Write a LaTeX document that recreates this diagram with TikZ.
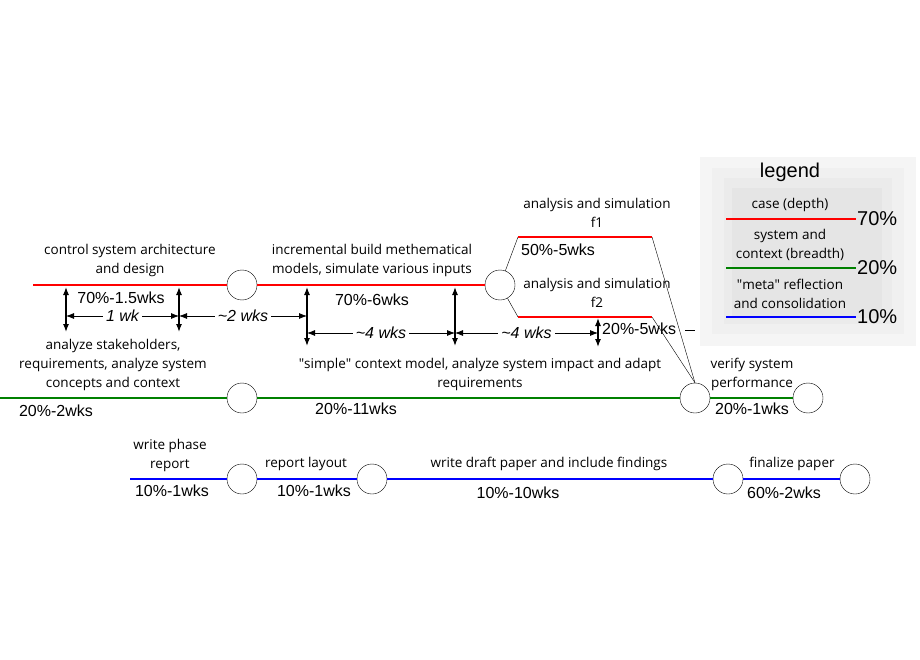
\documentclass[tikz,border=0pt]{standalone}
\usepackage{fontspec}
\setmainfont{Open Sans}
\newfontfamily\arl{Liberation Sans}
\usetikzlibrary{arrows.meta}
\begin{document}
\begin{tikzpicture}[x=1pt,y=-1pt,
 circ/.style={circle,draw,fill=white,minimum size=30pt,inner sep=0pt},
 red/.style={draw=red,line width=2.2pt},
 grn/.style={draw=green!50!black,line width=2.2pt},
 blu/.style={draw=blue,line width=2.2pt},
 lbl/.style={font=\fontsize{13.5}{19}\selectfont,align=center,inner sep=0pt},
 pct/.style={font=\arl\fontsize{16}{18}\selectfont,inner sep=0pt},
 dur/.style={font=\arl\itshape\fontsize{16}{18}\selectfont,fill=white,inner sep=3pt},
 va/.style={{Latex[length=8pt,width=6pt]}-{Latex[length=8pt,width=6pt]},line width=1.2pt}]
\useasboundingbox (0,0) rectangle (920,660);
% legend background
\fill[black!4] (700,157) rectangle (916,346);
\fill[black!6] (712,168) rectangle (904,334);
\fill[black!8] (724,178) rectangle (892,324);
\fill[black!10] (732,188) rectangle (882,318);
\node[font=\arl\fontsize{20}{22}\selectfont] (lg) at (790,172) {legend};
\node[lbl] (l1) at (790,205) {case (depth)};
\coordinate (r1a) at (726,219); \coordinate (r1b) at (856,219);
\draw[red] (r1a) -- (r1b);
\node[font=\arl\fontsize{20}{22}\selectfont,anchor=west,inner sep=1pt] (p70) at (r1b) {70\%};
\node[lbl] (l2) at (790,245) {system and\\context (breadth)};
\coordinate (r2a) at (726,268); \coordinate (r2b) at (856,268);
\draw[grn] (r2a) -- (r2b);
\node[font=\arl\fontsize{20}{22}\selectfont,anchor=west,inner sep=1pt] (p20) at (r2b) {20\%};
\node[lbl] (l3) at (790,294) {\textquotedbl meta\textquotedbl{} reflection\\and consolidation};
\coordinate (r3a) at (726,317); \coordinate (r3b) at (856,317);
\draw[blu] (r3a) -- (r3b);
\node[font=\arl\fontsize{20}{22}\selectfont,anchor=west,inner sep=1pt] (p10) at (r3b) {10\%};
% red track
\node[circ] (c1) at (242,285) {};
\node[circ] (c2) at (500,285) {};
\coordinate (rs) at (33,285);
\draw[red] (rs) -- (c1) -- (c2);
\coordinate (f1a) at (518,237); \coordinate (f1b) at (652,237);
\coordinate (f2a) at (518,317); \coordinate (f2b) at (652,317);
\draw (c2) -- (f1a); \draw (c2) -- (f2a);
\draw[red] (f1a) -- (f1b); \draw[red] (f2a) -- (f2b);
% green track
\node[circ] (g1) at (242,398) {};
\node[circ] (g2) at (695,398) {};
\node[circ] (g3) at (808,398) {};
\coordinate (gs) at (0,398);
\draw[grn] (gs) -- (g1) -- (g2) -- (g3);
\draw (f1b) -- (g2.north); \draw (f2b) -- (g2.north);
\coordinate (dsh1) at (685,330); \coordinate (dsh2) at (695,330);
\draw (dsh1) -- (dsh2);
% blue track
\node[circ] (b1) at (242,479) {};
\node[circ] (b2) at (372,479) {};
\node[circ] (b3) at (728,479) {};
\node[circ] (b4) at (855,479) {};
\coordinate (bs) at (130,479);
\draw[blu] (bs) -- (b1) -- (b2) -- (b3) -- (b4);
% vertical arrows
\coordinate (v1t) at (66,287); \coordinate (v1b) at (66,332);
\coordinate (v2t) at (179,287); \coordinate (v2b) at (179,332);
\coordinate (v3t) at (307,287); \coordinate (v3b) at (307,346);
\coordinate (v4t) at (455,287); \coordinate (v4b) at (455,346);
\coordinate (v5t) at (598,318); \coordinate (v5b) at (598,347);
\foreach \a/\b in {v1t/v1b,v2t/v2b,v3t/v3b,v4t/v4b,v5t/v5b} \draw[va] (\a) -- (\b);
% horizontal durations
\coordinate (h1a) at (66,316); \coordinate (h1b) at (179,316);
\coordinate (h2a) at (179,316); \coordinate (h2b) at (307,316);
\coordinate (h3a) at (307,333); \coordinate (h3b) at (455,333);
\coordinate (h4a) at (455,333); \coordinate (h4b) at (598,333);
\draw[va,line width=0.8pt] (h1a) -- node[dur] {1 wk} (h1b);
\draw[va,line width=0.8pt] (h2a) -- node[dur] {\textasciitilde 2 wks} (h2b);
\draw[va,line width=0.8pt] (h3a) -- node[dur] {\textasciitilde 4 wks} (h3b);
\draw[va,line width=0.8pt] (h4a) -- node[dur] {\textasciitilde 4 wks} (h4b);
% labels
\node[lbl] (t1) at (130,260) {control system architecture\\and design};
\node[pct] (n1) at (121,298) {70\%-1.5wks};
\node[lbl] (t2) at (372,260) {incremental build methematical\\models, simulate various inputs};
\node[pct] (n2) at (372,300) {70\%-6wks};
\node[lbl] (t3) at (597,213) {analysis and simulation\\f1};
\node[pct,anchor=west] (n3) at (521,250) {50\%-5wks};
\node[lbl] (t4) at (597,293) {analysis and simulation\\f2};
\node[pct,anchor=west] (n4) at (602,329) {20\%-5wks};
\node[lbl] (t5) at (113,365) {analyze stakeholders,\\requirements, analyze system\\concepts and context};
\node[pct] (n5) at (56,411) {20\%-2wks};
\node[lbl] (t6) at (480,374) {\textquotedbl simple\textquotedbl{} context model, analyze system impact and adapt\\requirements};
\node[pct] (n6) at (356,409) {20\%-11wks};
\node[lbl] (t7) at (752,374) {verify system\\performance};
\node[pct] (n7) at (752,409) {20\%-1wks};
\node[lbl] (t8) at (170,455) {write phase\\report};
\node[pct] (n8) at (172,491) {10\%-1wks};
\node[lbl] (t9) at (306,464) {report layout};
\node[pct] (n9) at (314,491) {10\%-1wks};
\node[lbl] (t10) at (549,464) {write draft paper and include findings};
\node[pct] (n10) at (518,493) {10\%-10wks};
\node[lbl] (t11) at (792,464) {finalize paper};
\node[pct] (n11) at (784,493) {60\%-2wks};
\end{tikzpicture}
\end{document}
